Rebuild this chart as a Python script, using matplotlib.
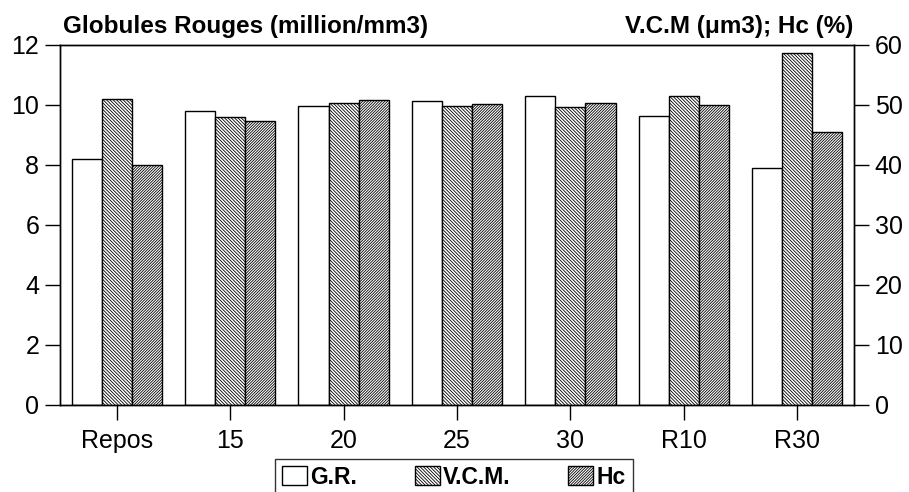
import matplotlib
matplotlib.use("Agg")
import matplotlib.pyplot as plt
import numpy as np

plt.rcParams["font.family"] = ["Liberation Sans", "DejaVu Sans"]
plt.rcParams["hatch.linewidth"] = 0.6

CATEGORIES = ["Repos", "15", "20", "25", "30", "R10", "R30"]
GR = [8.2, 9.8, 9.96, 10.13, 10.3, 9.62, 7.91]          # million/mm3, left axis
VCM = [51.0, 48.0, 50.3, 49.8, 49.7, 51.5, 58.6]        # um3, right axis
HC = [40.0, 47.3, 50.8, 50.2, 50.3, 50.0, 45.5]         # %, right axis
LEFT_TICKS = [0, 2, 4, 6, 8, 10, 12]
RIGHT_TICKS = [0, 10, 20, 30, 40, 50, 60]


def main():
    fig = plt.figure(figsize=(9.09, 4.92), dpi=100)
    ax = fig.add_axes([0.066, 0.177, 0.8735, 0.7317])
    ax2 = ax.twinx()

    x = np.arange(len(CATEGORIES))
    w = 0.265
    ax.bar(x - w, GR, w, color="white", edgecolor="black", linewidth=1.0,
           label="G.R.", zorder=2)
    ax2.bar(x, VCM, w, color="white", edgecolor="black", linewidth=1.0,
            hatch="\\" * 10, label="V.C.M.", zorder=2)
    ax2.bar(x + w, HC, w, color="white", edgecolor="black", linewidth=1.0,
            hatch="/" * 12, label="Hc", zorder=2)

    ax.set_xlim(-0.5, len(CATEGORIES) - 0.5)
    ax.set_ylim(0, 12)
    ax2.set_ylim(0, 60)
    ax.set_yticks(LEFT_TICKS)
    ax2.set_yticks(RIGHT_TICKS)
    ax.set_xticks(x)
    ax.set_xticklabels(CATEGORIES)

    for a in (ax, ax2):
        a.tick_params(axis="both", direction="out", length=11, width=1.0,
                      labelsize=18, pad=4, colors="black")
        for s in a.spines.values():
            s.set_linewidth(1.0)
    ax.tick_params(axis="x", pad=6)

    fig.text(0.069, 1 - 33 / 492, "Globules Rouges (million/mm3)",
             fontsize=17.5, fontweight="bold", ha="left", va="baseline")
    fig.text(853 / 909, 1 - 33 / 492, "V.C.M (\u03bcm3); Hc (%)",
             fontsize=17.5, fontweight="bold", ha="right", va="baseline")

    h1, l1 = ax.get_legend_handles_labels()
    h2, l2 = ax2.get_legend_handles_labels()
    leg = fig.legend(h1 + h2, l1 + l2, loc="upper center", ncol=3,
                     bbox_to_anchor=(454 / 909, 1 - 459 / 492),
                     frameon=True, fancybox=False, borderpad=0.3,
                     handlelength=1.1, handleheight=0.9, handletextpad=0.15,
                     columnspacing=2.5, borderaxespad=0,
                     prop={"weight": "bold", "size": 16.5})
    leg.get_frame().set_edgecolor("black")
    leg.get_frame().set_linewidth(1.0)

    fig.savefig("out.png", dpi=100)


if __name__ == "__main__":
    main()
